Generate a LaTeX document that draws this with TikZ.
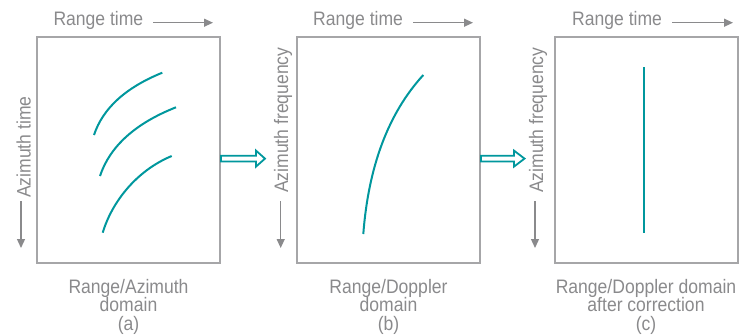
\documentclass[tikz,border=0pt]{standalone}
\usepackage{fontspec}
\setmainfont[FakeStretch=0.9]{Liberation Sans}
\usetikzlibrary{arrows.meta}
\definecolor{txtgray}{RGB}{138,138,140}
\definecolor{boxgray}{RGB}{166,166,168}
\definecolor{tealc}{RGB}{0,151,157}
\tikzset{
  panel/.style={draw=boxgray, line width=2pt, minimum width=183pt, minimum height=226pt, inner sep=0pt},
  lbl/.style={text=txtgray, font=\fontsize{19.5}{18.8}\selectfont, inner sep=0pt},
  captext/.style={lbl, align=center, anchor=north},
  axarrow/.style={draw=txtgray, line width=1.3pt, -{Triangle[length=9pt,width=8pt]}},
  sig/.style={draw=tealc, line width=2pt},
  hollow/.style={draw=tealc, line width=1.8pt, fill=white, line join=miter}
}
\begin{document}
\begin{tikzpicture}[x=1pt,y=-1pt]
\useasboundingbox (0,0) rectangle (751,335);
% panels
\node[panel] (A) at (128.5,150) {};
\node[panel] (B) at (388.5,150) {};
\node[panel] (C) at (646,150) {};
% range time labels
\node[lbl, anchor=base west] (rtA) at (53.3,25.7) {Range time};
\node[lbl, anchor=base west] (rtB) at (313,25.7) {Range time};
\node[lbl, anchor=base west] (rtC) at (572,25.7) {Range time};
\coordinate (rtAs) at (153,22.7); \coordinate (rtAe) at (213,22.7);
\coordinate (rtBs) at (413,22.7); \coordinate (rtBe) at (473,22.7);
\coordinate (rtCs) at (672,22.7); \coordinate (rtCe) at (733,22.7);
\draw[axarrow] (rtAs) -- (rtAe);
\draw[axarrow] (rtBs) -- (rtBe);
\draw[axarrow] (rtCs) -- (rtCe);
% vertical labels
\node[lbl, rotate=90, anchor=base west] (azA) at (30.5,198) {Azimuth time};
\node[lbl, rotate=90, anchor=base west] (azB) at (288,193) {Azimuth frequency};
\node[lbl, rotate=90, anchor=base west] (azC) at (543,193) {Azimuth frequency};
\coordinate (vAs) at (21,201); \coordinate (vAe) at (21,248);
\coordinate (vBs) at (280.7,201); \coordinate (vBe) at (280.7,248);
\coordinate (vCs) at (535,201); \coordinate (vCe) at (535,248);
\draw[axarrow] (vAs) -- (vAe);
\draw[axarrow] (vBs) -- (vBe);
\draw[axarrow] (vCs) -- (vCe);
% captions
\node[captext] (capA) at (128.5,278.8) {Range/Azimuth\\domain\\(a)};
\node[captext] (capB) at (388.5,278.8) {Range/Doppler\\domain\\(b)};
\node[captext] (capC) at (646,278.8) {Range/Doppler domain\\after correction\\(c)};
% signals
\draw[sig] (94,135) .. controls (102.9,108.2) and (125.6,87.6) .. (162.3,72.7);
\draw[sig] (100,176) .. controls (109.9,146.2) and (135.6,123.2) .. (176,107.3);
\draw[sig] (102.7,232.7) .. controls (111.7,202.7) and (135.7,171) .. (171.7,156);
\draw[sig] (363.3,234) .. controls (368.5,166) and (388.5,113) .. (423.3,75);
\draw[sig] (644.3,67) -- (644.3,233);
% hollow arrows between panels
\draw[hollow] (A.east |- 0,155.8) -- (256,155.8) -- (256,150.6) -- (265,158.6) -- (256,166.6) -- (256,161.4) -- (A.east |- 0,161.4) -- cycle;
\draw[hollow] (B.east |- 0,155.8) -- (514,155.8) -- (514,150.6) -- (524.5,158.6) -- (514,166.6) -- (514,161.4) -- (B.east |- 0,161.4) -- cycle;
\end{tikzpicture}
\end{document}
